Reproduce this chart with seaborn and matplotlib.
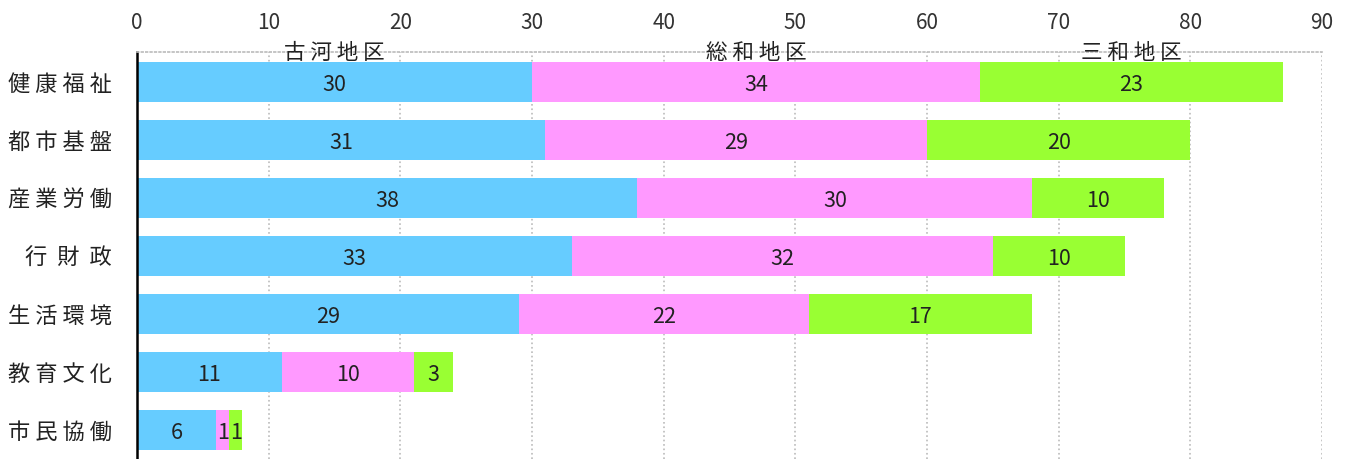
import matplotlib.pyplot as plt
import seaborn as sns
import pandas as pd
import numpy as np

categories = ["健康福祉", "都市基盤", "産業労働", "行財政", "生活環境", "教育文化", "市民協働"]
series = ["古河地区", "総和地区", "三和地区"]
koga = [30, 31, 38, 33, 29, 11, 6]
sowa = [34, 29, 30, 32, 22, 10, 1]
sanwa = [23, 20, 10, 10, 17, 3, 1]
colors = ["#66CCFF", "#FF99FF", "#99FF33"]

sns.set_style("white")
plt.rcParams['font.family'] = ['Noto Sans CJK JP', 'DejaVu Sans']

df = pd.DataFrame({"区分": categories, "古河地区": koga, "総和地区": sowa, "三和地区": sanwa})
cum = df[series].cumsum(axis=1)


def spaced(s, gap=" "):
    return gap.join(s)


fig = plt.figure(figsize=(13.51, 4.59), dpi=100)
ax = fig.add_axes([0.1014, 0.0, 0.8772, 0.8867])

# stacked bars: draw cumulative totals, largest first
for s, c in reversed(list(zip(series, colors))):
    sns.barplot(x=cum[s], y=df["区分"], color=c, width=0.684, ax=ax,
                saturation=1, linewidth=0, orient="h")

# value labels
for i in range(len(categories)):
    left = 0
    for s in series:
        v = df[s].iloc[i]
        ax.text(left + v / 2, i + 0.05, str(v), ha="center", va="center",
                fontsize=15.5, color="#222222")
        left += v

# series names above first bar
left = 0
for s in series:
    v = df[s].iloc[0]
    ax.text(left + v / 2, -0.5, spaced(s), ha="center", va="center",
            fontsize=15.5, color="#222222")
    left += v

ax.set_xlim(0, 90)
ax.set_ylim(6.44, -0.513)
ax.set_xticks(np.arange(0, 91, 10))
ax.xaxis.tick_top()
ax.tick_params(axis="x", length=0, labelsize=15, labelcolor="#333333", pad=13)
ax.set_yticks(range(len(categories)))
ax.set_yticklabels([spaced(c, "  " if len(c) == 3 else " ") for c in categories])
ax.tick_params(axis="y", which="major", length=0, labelsize=16, pad=18,
               labelcolor="#222222")
ax.set_yticks(np.arange(-0.5, 7, 1), minor=True)
ax.tick_params(axis="y", which="minor", direction="in", length=6, width=1.5,
               color="black")
ax.set_xlabel("")
ax.set_ylabel("")

ax.grid(axis="x", color="#bbbbbb", linestyle=":", linewidth=1.2)
ax.set_axisbelow(True)
for side in ["right", "bottom"]:
    ax.spines[side].set_visible(False)
ax.spines["top"].set_color("#bbbbbb")
ax.spines["top"].set_linestyle(":")
ax.spines["top"].set_linewidth(1.2)
ax.spines["left"].set_color("black")
ax.spines["left"].set_linewidth(1.8)

plt.savefig("out.png", dpi=100)
